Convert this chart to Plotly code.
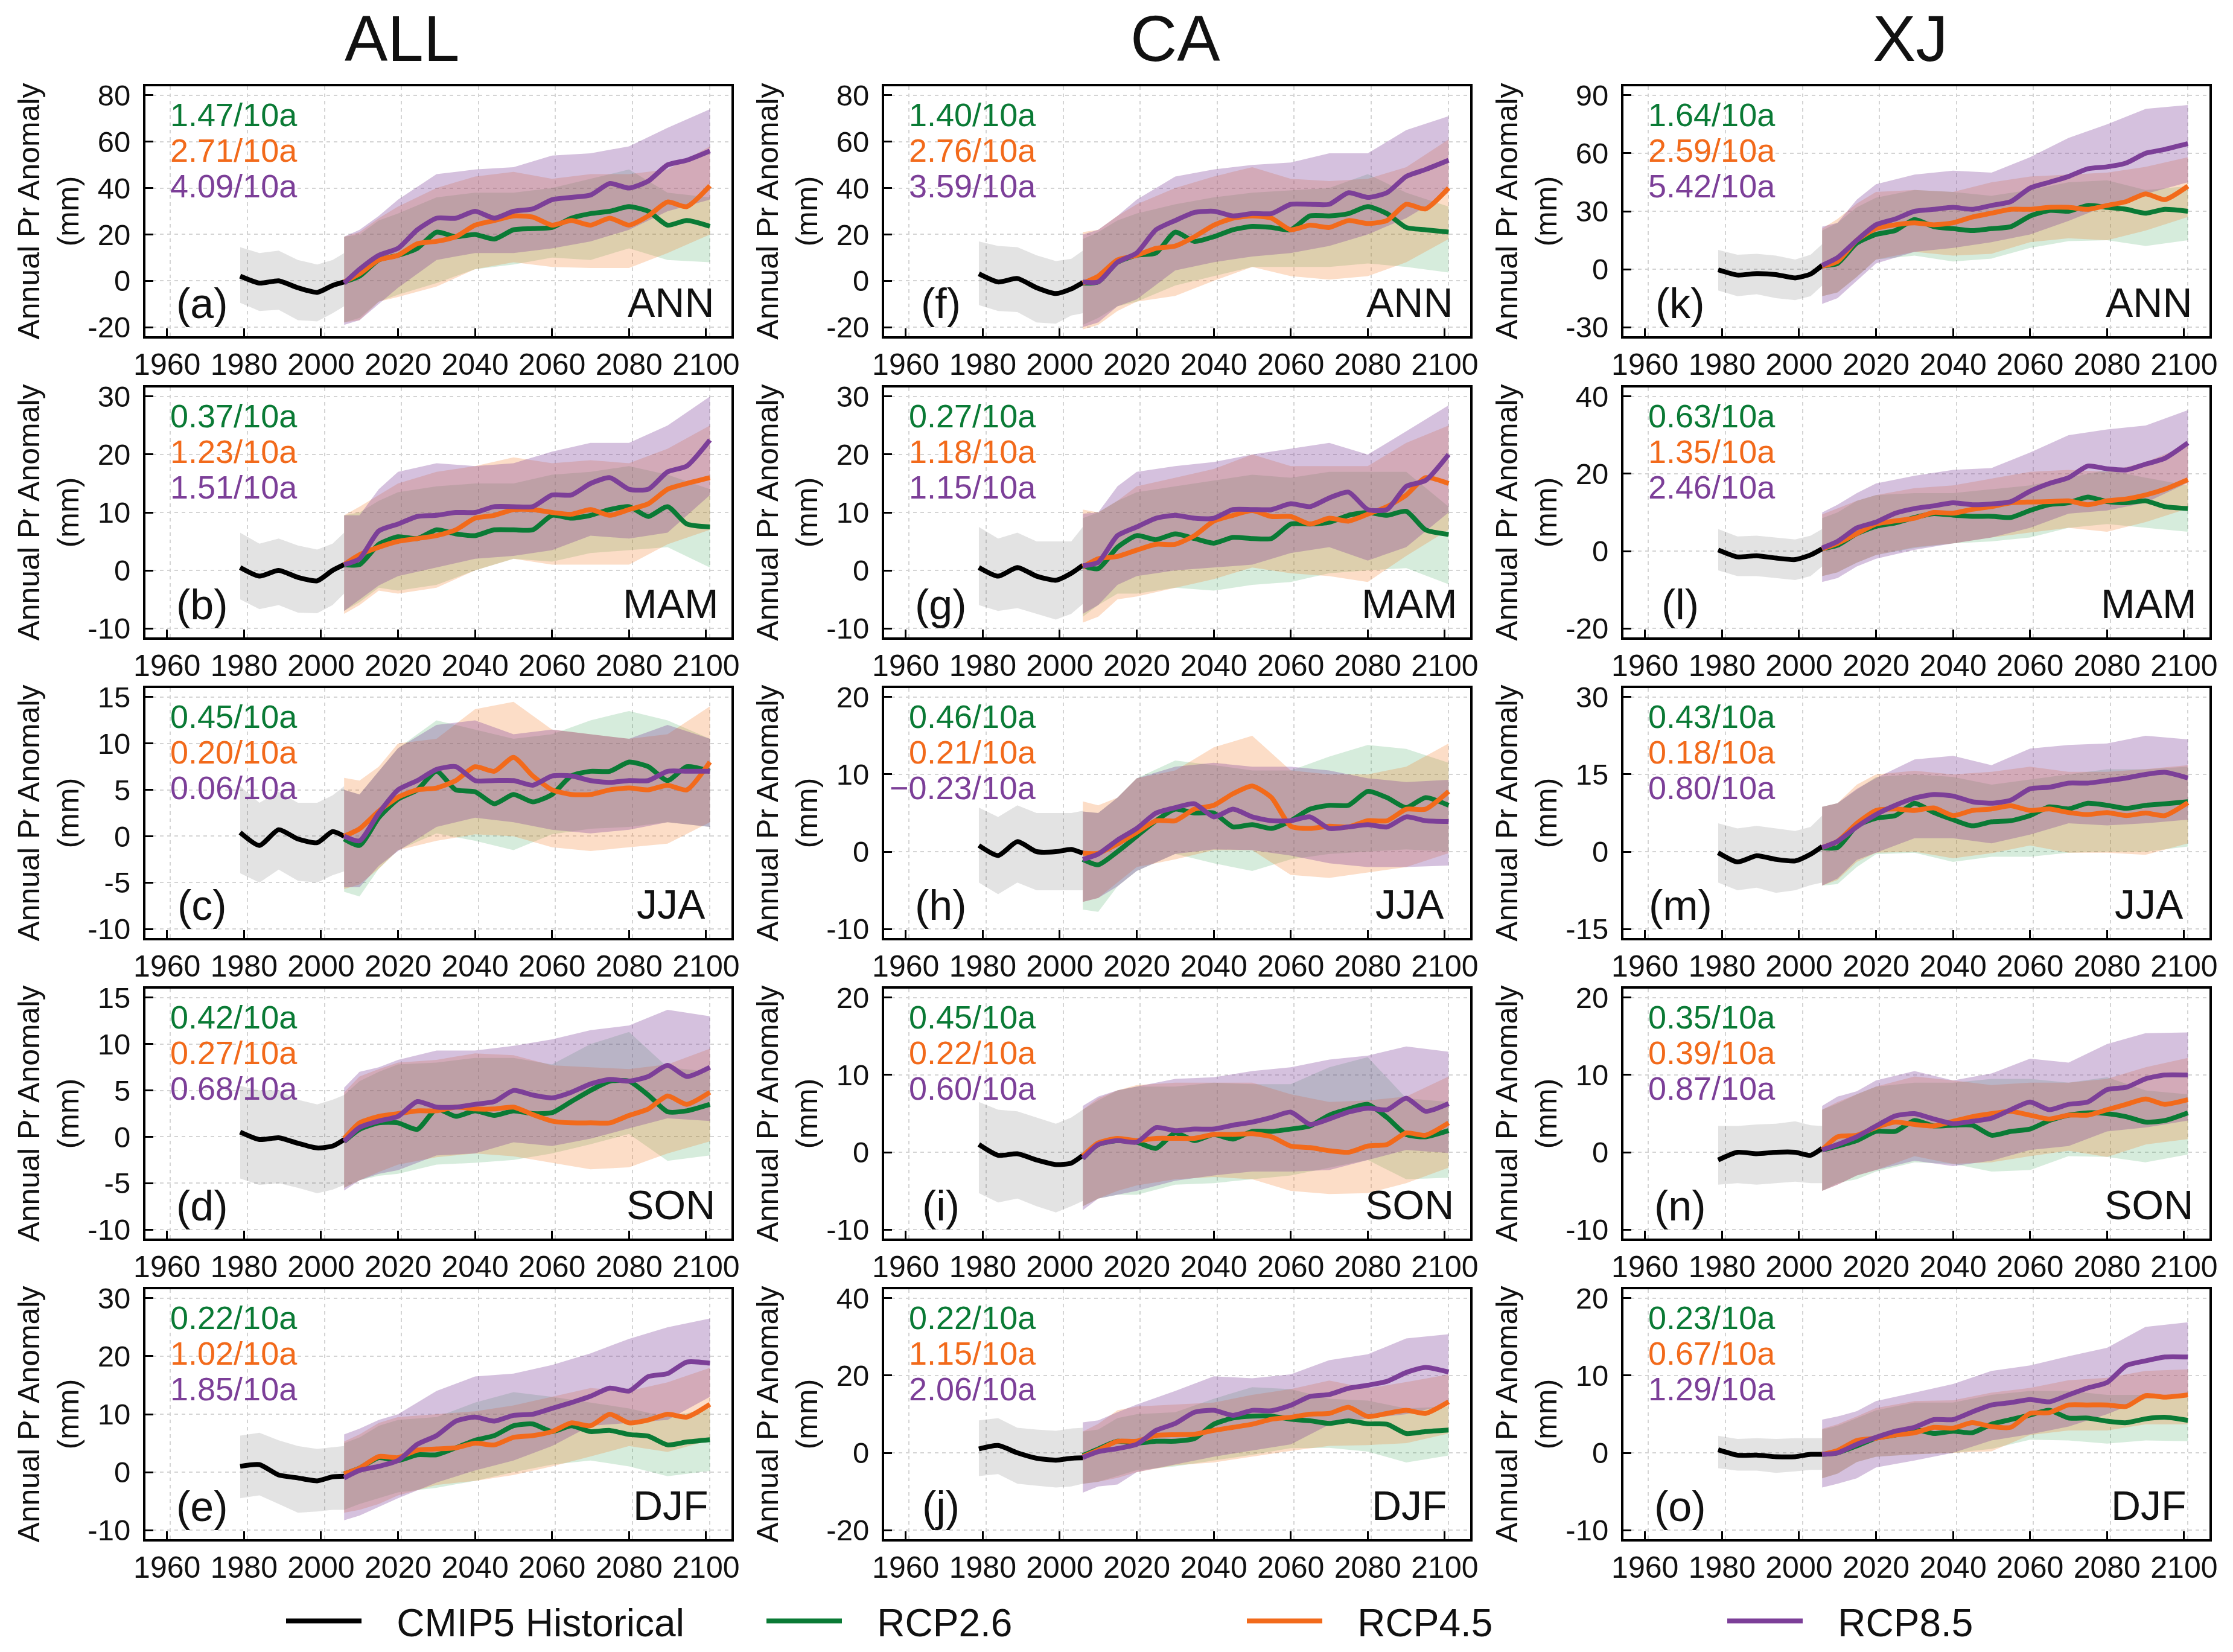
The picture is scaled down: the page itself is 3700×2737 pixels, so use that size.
import plotly.graph_objects as go

# years the values were read at
HIST_YEARS = [1979, 1984, 1989, 1994, 1999, 2003, 2006]
LINE_YEARS = [2006, 2010, 2015, 2020, 2025, 2030, 2035, 2040, 2045, 2050, 2055, 2060, 2065, 2070, 2075, 2080, 2085, 2090, 2095, 2101]
BAND_YEARS = [2006, 2010, 2015, 2020, 2030, 2040, 2050, 2060, 2070, 2080, 2090, 2101]
X_TICKS = [1960, 1980, 2000, 2020, 2040, 2060, 2080, 2100]

COLUMN_TITLES = ["ALL", "CA", "XJ"]
SEASONS = ["ANN", "MAM", "JJA", "SON", "DJF"]
LETTERS = "abcdefghijklmno"
SERIES_NAMES = ["RCP2.6", "RCP4.5", "RCP8.5"]
SERIES_KEYS = ["26", "45", "85"]
LEGEND_NAMES = ["CMIP5 Historical"] + SERIES_NAMES

# (a) ALL ANN
A_TICKS = [-20, 0, 20, 40, 60, 80]
A_RATE = ["1.47/10a", "2.71/10a", "4.09/10a"]
A_H = [2, -1, 0, -3, -5, -2, -0.5]
A_H_LO = [-9.5, -13, -12.5, -17, -17.5, -14, -11]
A_H_HI = [14.5, 12, 13, 9, 7, 9, 12]
A_26 = [-0.5, 2, 9, 11, 14, 21, 19, 20, 18, 22, 22.5, 23, 27, 29, 30, 32, 30, 24, 26, 23.5]
A_45 = [-0.5, 3, 9, 11, 16, 17, 19, 24, 26, 28, 27.5, 24, 26, 24, 27, 24, 28, 34, 32, 41]
A_85 = [-1, 5, 11, 14, 22, 27, 27, 30, 27, 30, 31, 35, 36, 37, 42, 40, 43, 50, 52, 56]
A_26_LO = [-18, -16, -9, -6, -1, 5, 7, 10, 9, 14, 9, 8]
A_26_HI = [19, 20, 26, 29, 36, 38, 38, 40, 44, 48, 38, 36]
A_45_LO = [-18, -17, -9, -7, -2.5, 5, 8, 6, 5.5, 5.5, 12, 20]
A_45_HI = [19, 21, 27, 32, 40, 45, 47, 44, 46, 46, 48, 58]
A_85_LO = [-19, -17, -10, -3, 9, 12, 12, 14, 17, 22, 30, 35]
A_85_HI = [19, 22, 28, 35, 46, 48, 49, 54, 55, 58, 66, 74]

# (b) ALL MAM
B_TICKS = [-10, 0, 10, 20, 30]
B_RATE = ["0.37/10a", "1.23/10a", "1.51/10a"]
B_H = [0.5, -1, 0, -1.2, -1.8, 0, 1]
B_H_LO = [-5, -6.7, -6, -7.3, -7.4, -6, -4]
B_H_HI = [6.5, 4.6, 5.5, 4.3, 3.6, 4.6, 6.5]
B_26 = [1, 1, 4.5, 5.8, 5.5, 7, 6.3, 6, 7, 7, 7, 9.5, 9, 9.5, 10.5, 11, 9.3, 11, 8, 7.5]
B_45 = [1, 2.7, 4, 5, 5.5, 6, 7, 9, 9.5, 10.5, 10.5, 10, 9.7, 10.5, 9.5, 10.5, 11.5, 14, 15, 16]
B_85 = [1, 2, 6.8, 8, 9.3, 9.5, 10, 10, 11, 11, 11, 13, 13, 15, 16, 14, 14, 17, 18, 22.5]
B_26_LO = [-7, -5.5, -3, -3.5, -2.5, 0, 2, 1.5, 3, 3.5, 4, 0.5]
B_26_HI = [9.5, 10, 12, 13.5, 14.5, 15, 15, 16.5, 17, 18, 16.5, 14]
B_45_LO = [-7.5, -6, -3.5, -4, -3, 0, 2, 1, 1, 1, 4.5, 7]
B_45_HI = [9.5, 11, 13, 15, 17, 18, 19.5, 18.5, 19, 18.5, 21, 25]
B_85_LO = [-7, -5, -2.6, -1, 0.5, 2, 2.5, 3.5, 6, 5.5, 6.5, 13]
B_85_HI = [9.5, 9.5, 14, 17, 18.5, 18, 18.5, 20.5, 22, 22, 25, 30]

# (c) ALL JJA
C_TICKS = [-10, -5, 0, 5, 10, 15]
C_RATE = ["0.45/10a", "0.20/10a", "0.06/10a"]
C_H = [0.4, -1, 0.7, -0.3, -0.7, 0.5, 0]
C_H_LO = [-4, -5, -3.6, -4.8, -5, -4.2, -3.8]
C_H_HI = [5.4, 3.6, 4.8, 3.6, 3.6, 4.4, 5.4]
C_26 = [-0.3, -1, 2, 4, 5, 7, 5, 4.8, 3.5, 4.5, 3.7, 4.5, 6.5, 7, 7, 8, 7.5, 6, 7.5, 7]
C_45 = [0, 0.8, 2.7, 4.2, 5, 5.2, 6, 7.5, 7, 8.5, 6.5, 5, 4.5, 4.5, 5, 5.2, 5, 5.5, 5, 8]
C_85 = [0, -0.5, 2.5, 5, 6, 7.2, 7.5, 6, 6, 6, 5.5, 6.5, 6.5, 6, 5.8, 6, 6, 7, 7, 7]
C_26_LO = [-6, -6.5, -3.5, -1.5, 0.3, -0.5, -1.5, 0.2, 0.8, 1, 1.5, 1]
C_26_HI = [5, 4.5, 7, 9.5, 12.5, 11.5, 10.5, 11, 12.5, 13.5, 12.5, 10.5]
C_45_LO = [-5.7, -5.2, -3.5, -1.5, -0.5, 0.2, 0, -1.2, -1.6, -1.2, -0.8, 1.5]
C_45_HI = [6.3, 6, 7.5, 10, 10.5, 13.7, 14.5, 11.5, 11, 10.5, 11, 14]
C_85_LO = [-5.5, -5.5, -3.2, -1.6, 1, 2, 1.5, 0.7, 0.3, 0.7, 1.5, 1]
C_85_HI = [5, 4.5, 7, 9.5, 12, 12.5, 11, 11.5, 11, 10.5, 12, 10.5]

# (d) ALL SON
D_TICKS = [-10, -5, 0, 5, 10, 15]
D_RATE = ["0.42/10a", "0.27/10a", "0.68/10a"]
D_H = [0.5, -0.3, -0.1, -0.7, -1.2, -1, -0.3]
D_H_LO = [-4.5, -5.2, -5, -5.5, -6.1, -5.7, -5.2]
D_H_HI = [5.5, 5, 5, 4, 3.5, 4, 4.5]
D_26 = [-0.5, 0.8, 1.5, 1.5, 0.8, 3, 2.2, 2.8, 2.3, 2.8, 2.5, 2.6, 3.8, 5, 6, 6, 4.5, 2.7, 2.8, 3.5]
D_45 = [-0.2, 1.5, 2.2, 2.5, 2.8, 2.8, 3.2, 3, 3, 3.2, 2.4, 1.7, 1.5, 1.5, 1.5, 2.3, 3, 4.4, 3.5, 4.8]
D_85 = [-0.5, 1, 1.7, 2.2, 3.8, 3.2, 3.2, 3.5, 3.8, 5, 4.5, 4.2, 4.8, 5.7, 6.2, 6, 6.5, 7.7, 6.5, 7.5]
D_26_LO = [-5.5, -4.7, -4.2, -4, -3, -2.8, -2.5, -1.8, -0.8, 0.3, -2.6, -2]
D_26_HI = [4.5, 6, 7, 7.8, 8, 8.5, 8.5, 7.8, 10, 11.3, 7.5, 7]
D_45_LO = [-5.5, -4.7, -3.8, -3, -2.2, -1.8, -2.1, -2.8, -3.5, -3.3, -1.8, -0.5]
D_45_HI = [4.8, 6.5, 7.3, 8, 8.3, 9, 8.8, 7.7, 7.5, 7.3, 7.8, 9.5]
D_85_LO = [-5.8, -4.7, -4, -3.6, -2, -1.8, -0.6, -1, -0.2, 0.9, 2, 1.7]
D_85_HI = [5.3, 7, 7.5, 8.3, 9.3, 9.3, 9.8, 10.5, 11.5, 12, 13.7, 13]

# (e) ALL DJF
E_TICKS = [-10, 0, 10, 20, 30]
E_RATE = ["0.22/10a", "1.02/10a", "1.85/10a"]
E_H = [1, 1.3, -0.5, -1, -1.5, -0.8, -0.7]
E_H_LO = [-4.5, -4, -5.5, -7, -6.8, -6.5, -6.5]
E_H_HI = [6.3, 6.8, 5.5, 4.5, 4, 4.3, 4.5]
E_26 = [-0.3, 0.7, 2.5, 2, 3, 3, 4.2, 5.5, 6.3, 8, 8.3, 7, 8, 7, 7.2, 6.5, 6.2, 4.7, 5.2, 5.6]
E_45 = [-0.3, 0.7, 2.7, 2.5, 3.8, 4, 4.2, 5, 4.7, 6, 6.3, 7, 8.5, 8, 10, 8.5, 9, 10, 9.5, 11.7]
E_85 = [-1, 0.3, 1, 2, 4.8, 6.3, 8.8, 9.5, 8.8, 9.8, 10, 11, 12, 13.1, 14.5, 14, 16.5, 17, 19, 18.8]
E_26_LO = [-6.5, -5.5, -4.5, -3.5, -2.7, -1.5, 0, 1.3, 2, 1, -0.7, 0.2]
E_26_HI = [5, 6, 8, 9, 9.5, 12, 13.8, 13, 12, 11, 9.5, 11]
E_45_LO = [-7, -6.5, -5.5, -4, -2.2, -1.5, -0.5, 1, 2.7, 4.5, 3.5, 5.5]
E_45_HI = [5.3, 6.5, 8.5, 9.5, 10, 10.5, 11.5, 13, 14.5, 14, 15.5, 18]
E_85_LO = [-8.3, -7.5, -6, -4.5, -1.8, 0.3, 2, 4.5, 8, 8.5, 9, 13]
E_85_HI = [6.5, 7.5, 9, 10, 14, 16.5, 17, 18.5, 20.5, 23, 25, 26.5]

# (f) CA ANN
F_TICKS = [-20, 0, 20, 40, 60, 80]
F_RATE = ["1.40/10a", "2.76/10a", "3.59/10a"]
F_H = [3, -0.5, 1, -3, -5.5, -3.5, -0.8]
F_H_LO = [-10.5, -13, -13.5, -18, -18.5, -15, -14]
F_H_HI = [17, 15, 14.5, 11, 8.5, 9.5, 13]
F_26 = [-1, -0.5, 8, 11, 12, 21, 17, 19, 22, 23.5, 23, 22, 28, 28, 29, 32, 29, 23, 22, 21]
F_45 = [-1, 2, 9, 11, 14, 15, 19, 24, 27, 28, 27, 22, 24, 23, 26, 24.7, 26, 33, 31, 40]
F_85 = [-0.5, -0.5, 8, 12, 22, 26, 29.5, 30, 28, 29, 29, 33, 33, 33, 38, 36, 38, 45, 48, 52]
F_26_LO = [-19, -16, -11, -9, -2, 2, 6, 6, 6, 7.5, 6, 3.6]
F_26_HI = [18, 21, 26, 29, 33, 36, 38, 39, 40, 46, 38, 32]
F_45_LO = [-21, -19, -13, -9, -6.5, 0, 6, 2, 0.5, 2, 8, 18]
F_45_HI = [21, 22, 28, 33, 40, 45, 49, 44, 43, 44, 49, 61]
F_85_LO = [-20, -18, -11, -8, 4.5, 8, 10.5, 12, 15, 20, 27, 38]
F_85_HI = [20, 22, 28, 35, 45, 48, 50, 51, 55, 55, 65, 71]

# (g) CA MAM
G_TICKS = [-10, 0, 10, 20, 30]
G_RATE = ["0.27/10a", "1.18/10a", "1.15/10a"]
G_H = [0.5, -1, 0.5, -1, -1.7, -0.5, 0.9]
G_H_LO = [-6, -7, -6.5, -7.5, -8.5, -7.5, -5.8]
G_H_HI = [7.5, 5.5, 6.5, 5, 5, 5, 7.5]
G_26 = [0.8, 0.3, 4, 6, 5.3, 6.3, 5.5, 4.7, 5.7, 5.5, 5.5, 8, 8, 8.3, 9.5, 10, 9.5, 10.2, 7, 6.2]
G_45 = [0.6, 2, 2.4, 3.5, 4.5, 4.5, 6, 8.5, 9.5, 10.3, 9.3, 9.3, 8, 9, 8.5, 9.7, 11, 13, 16, 15]
G_85 = [0.8, 1.4, 6, 7.5, 9, 9.5, 9, 9, 10.5, 10.5, 10.5, 11.5, 11, 12.5, 13.5, 10.5, 10.5, 14.5, 15.5, 20]
G_26_LO = [-8, -6, -4, -4, -3, -3.5, -2.5, -2, -0.5, 0, 0.4, -2.4]
G_26_HI = [9, 10, 12, 13.5, 14.5, 15.5, 16.5, 16, 17, 17, 17, 11]
G_45_LO = [-9, -8, -5, -4.5, -3, -1.5, 0.5, -0.5, -1, -2, 2.5, 7]
G_45_HI = [10.5, 10, 12, 14.5, 16, 17.5, 20, 18, 18, 18, 22, 25]
G_85_LO = [-7.5, -6, -2.5, -1, 0, 0.5, 1, 3, 4, 1.7, 4, 10]
G_85_HI = [9.8, 10, 14.5, 17, 18, 18.7, 20, 21, 22, 20, 24, 28.5]

# (h) CA JJA
H_TICKS = [-10, 0, 10, 20]
H_RATE = ["0.46/10a", "0.21/10a", "\u22120.23/10a"]
H_H = [0.8, -0.5, 1.3, 0, 0, 0.3, -0.2]
H_H_LO = [-4, -5.5, -4, -5, -5, -5, -5]
H_H_HI = [5.7, 4.5, 6, 5, 5, 5, 5.3]
H_26 = [-1, -1.7, 0, 2, 4, 5.5, 5, 5, 3.2, 3.5, 3, 4, 5.5, 6, 6, 7.8, 7, 5.7, 7, 6]
H_45 = [-0.2, -0.2, 1, 2.5, 4, 4, 5.5, 6, 7.5, 8.5, 7, 3.3, 3, 3.3, 3.2, 4, 4, 5.5, 5.5, 7.8]
H_85 = [-1, -0.3, 1.5, 3, 5, 5.7, 6.2, 4.5, 5.5, 4.5, 4, 4, 4.5, 3, 3.2, 3.5, 3.2, 4.5, 4, 3.9]
H_26_LO = [-7.5, -7.8, -4.5, -2.5, -0.3, -1.5, -2.5, -1, -0.3, 0, 0.3, 0]
H_26_HI = [5.2, 5, 7, 9.5, 11.8, 11.2, 10.5, 10.5, 12.3, 13.8, 13.3, 11.5]
H_45_LO = [-6.5, -6, -4, -2, -1, 0.2, 0.2, -3, -3.4, -2.7, -2, -0.2]
H_45_HI = [6.5, 6, 7, 9.5, 10.5, 13.5, 15, 10.5, 10, 10, 11, 14]
H_85_LO = [-6.5, -6, -4.5, -2.5, -0.3, 0.3, 0.2, -0.5, -1.5, -2, -2, -1.8]
H_85_HI = [5.2, 5, 7, 9.5, 11, 11.5, 11, 11, 10.5, 9.5, 9, 9.3]

# (i) CA SON
I_TICKS = [-10, 0, 10, 20]
I_RATE = ["0.45/10a", "0.22/10a", "0.60/10a"]
I_H = [1, -0.4, -0.2, -1, -1.6, -1.4, -0.4]
I_H_LO = [-5.3, -6.5, -6, -7, -7.8, -7, -6.3]
I_H_HI = [6.5, 5.5, 5.3, 4.5, 3.7, 4.5, 5.5]
I_26 = [-0.8, 1, 1.5, 1.3, 0.5, 2.5, 1.5, 2.3, 1.7, 2.7, 2.7, 3, 3.4, 4.8, 5.6, 6.2, 4.5, 2.3, 2, 2.8]
I_45 = [-0.5, 1.2, 1.8, 1.5, 1.8, 1.8, 1.8, 2.3, 2.3, 2.4, 2, 0.8, 0.6, 0.2, 0, 0.8, 1, 2.5, 2.2, 3.8]
I_85 = [-0.8, 1, 1.5, 1.3, 3.2, 2.8, 3, 3, 3.5, 3.9, 4.5, 5.2, 3.6, 4.3, 5.2, 5.7, 5.5, 7, 5.3, 6.3]
I_26_LO = [-7, -6, -5.5, -5.5, -4.2, -4, -3.5, -3, -2, -1, -3.5, -3.3]
I_26_HI = [5.5, 6.7, 8, 8.5, 8.5, 9, 8.8, 8.8, 11, 12.3, 7, 6.5]
I_45_LO = [-7, -6, -5, -4.3, -3.5, -3.2, -3.5, -5, -5.4, -5.3, -4, -2]
I_45_HI = [5.5, 7, 8, 8.7, 9, 9, 9, 7.5, 6.5, 6.7, 7.2, 9.8]
I_85_LO = [-7.5, -6, -5.5, -5, -3.7, -3, -2.5, -2.5, -2.3, -1, 0.3, -0.1]
I_85_HI = [6, 7.2, 8, 8.5, 9.5, 9.7, 10.5, 11, 12, 12.5, 13.7, 13]

# (j) CA DJF
J_TICKS = [-20, 0, 20, 40]
J_RATE = ["0.22/10a", "1.15/10a", "2.06/10a"]
J_H = [1, 1.9, 0, -1.4, -1.9, -1.4, -1.3]
J_H_LO = [-6, -5.5, -8, -8.5, -9, -8.7, -8]
J_H_HI = [8.4, 9, 6.5, 6, 5.7, 6.3, 6.5]
J_26 = [-0.7, 1, 3, 2.5, 3, 3, 3.7, 7.4, 9, 9.5, 9.5, 8.7, 8.3, 7.6, 8.3, 7.5, 7.4, 5, 5.5, 5.9]
J_45 = [-1, 0.7, 3, 3, 4.5, 4.7, 4.8, 5.8, 6.6, 7.4, 8.7, 9.2, 10, 10.2, 11.8, 9.4, 10.2, 11, 10.2, 13.2]
J_85 = [-1.2, 0.3, 1.1, 2.2, 5.8, 7.6, 10.5, 11, 9.7, 11, 10.9, 12.3, 14.6, 15.1, 16.7, 17.5, 18.5, 20.8, 22.1, 20.9]
J_26_LO = [-8, -7.5, -6, -4.5, -3.5, -2, -0.5, 1.2, 1.3, 0.3, -2.5, -0.7]
J_26_HI = [5.5, 6, 9, 10, 10.5, 14, 17, 16.5, 14, 13.5, 11.5, 12]
J_45_LO = [-8, -7.5, -6.5, -5, -3.2, -2.5, -1, 0.5, 1.8, 2, 2.5, 5]
J_45_HI = [5.5, 7.5, 11, 12, 12.5, 13, 15, 16.5, 18.7, 16.7, 18.3, 20.3]
J_85_LO = [-10.3, -8.7, -8.2, -5, -3, -1, 0.6, 2.2, 7.3, 8.9, 10, 12.5]
J_85_HI = [7.9, 8.4, 10.5, 12.5, 16, 19.8, 19.3, 20.3, 24, 25.5, 29.6, 30.7]

# (k) XJ ANN
K_TICKS = [-30, 0, 30, 60, 90]
K_RATE = ["1.64/10a", "2.59/10a", "5.42/10a"]
K_H = [-0.3, -3, -2.3, -2.8, -4.5, -2.5, 2]
K_H_LO = [-11, -14, -13, -15, -16, -14, -8.5]
K_H_HI = [10, 7.5, 8, 7, 5, 7.5, 13]
K_26 = [1.8, 3, 13.5, 18, 20, 25.7, 22, 21, 20, 21, 22, 27.5, 30.4, 30, 33, 32, 31, 29, 31, 30]
K_45 = [1.5, 4, 15, 21, 23, 24, 23, 24, 27, 29, 31, 31, 32, 32, 31, 33, 35, 39, 36, 43]
K_85 = [2, 6, 15, 23, 26, 30, 31, 32, 31, 33, 35, 42, 45, 48, 52, 53, 55, 60, 62, 65]
K_26_LO = [-14, -12, -4, 5, 7, 4, 5.5, 11, 14.5, 15, 12, 15]
K_26_HI = [20, 24, 32, 37, 41, 40, 38, 41, 45, 46, 41, 43]
K_45_LO = [-14, -12, -4, 5, 9, 7, 8, 14, 16, 15, 20, 27]
K_45_HI = [21, 26, 34, 40, 41, 40, 45, 48, 49, 50, 53, 58]
K_85_LO = [-18, -15, -6, 3, 9, 11, 14, 18, 25, 33, 39, 45]
K_85_HI = [22, 24, 36, 44, 49, 51, 50, 58, 68, 75, 83, 85]

# (l) XJ MAM
L_TICKS = [-20, 0, 20, 40]
L_RATE = ["0.63/10a", "1.35/10a", "2.46/10a"]
L_H = [0.3, -1.5, -1.2, -1.8, -2.2, -1, 0.6]
L_H_LO = [-5, -6.5, -6.5, -7, -7.5, -6.5, -4]
L_H_HI = [5.7, 3.8, 4, 3.5, 3, 4, 5.7]
L_26 = [0.6, 1.5, 4.5, 6.4, 7.3, 8.7, 9.7, 9.3, 9, 9, 8.7, 10.5, 12, 12.5, 14, 12.8, 12.5, 13, 11.5, 11]
L_45 = [0.6, 2, 4.5, 7, 7.8, 8.5, 10, 9.8, 10.8, 11.5, 12.5, 12.7, 12.8, 13, 12, 13, 13.5, 14.5, 16, 18.5]
L_85 = [0.8, 2.5, 6, 7.5, 9.8, 11, 11.7, 12.5, 12, 12.2, 12.8, 15.5, 17.5, 19, 22, 21.3, 21, 22.5, 24, 28]
L_26_LO = [-6.5, -5.5, -3, -1, 0.8, 2, 2.5, 3.5, 6, 7, 6, 5]
L_26_HI = [8.5, 10, 13, 14.5, 15, 15, 16, 17, 19, 21, 19, 17]
L_45_LO = [-6.5, -5.5, -3, -1, 1, 2, 3.5, 4.8, 6, 5, 7.5, 11]
L_45_HI = [9.5, 11, 13, 14.5, 16.3, 17, 18.7, 20.5, 21, 20.5, 23, 27.5]
L_85_LO = [-8, -7, -4, -2, 0.3, 2, 3.5, 6, 9.7, 10.5, 12.5, 17.7]
L_85_HI = [10, 12, 15, 17.5, 19.5, 21, 21.5, 25.5, 30, 31.5, 32.5, 36.5]

# (m) XJ JJA
M_TICKS = [-15, 0, 15, 30]
M_RATE = ["0.43/10a", "0.18/10a", "0.80/10a"]
M_H = [-0.2, -2, -0.8, -1.5, -1.8, -0.5, 1]
M_H_LO = [-6, -7.5, -7, -8, -7.5, -6.5, -6]
M_H_HI = [5.5, 4.5, 5, 4.5, 4, 4.8, 7]
M_26 = [0.8, 0.8, 5, 6.5, 7, 9.4, 7.6, 6.2, 5, 5.8, 6, 7, 8.7, 8.3, 9.4, 9, 8.4, 9, 9.3, 9.7]
M_45 = [0.8, 2, 5.5, 8, 8.3, 8, 8.5, 7, 8, 8.3, 8.9, 8, 8.3, 7.6, 7.2, 7.6, 7, 7.5, 7, 9.5]
M_85 = [0.8, 2, 4.8, 7.2, 9, 10.4, 11.1, 10.8, 9.7, 9.4, 10, 12.2, 12.5, 13.3, 13.3, 13.8, 14.3, 15, 15.4, 14.3]
M_26_LO = [-6.6, -6.3, -3, -0.5, -0.2, -2, -1, -1, -0.2, 0, 0, 1]
M_26_HI = [8.7, 9.4, 12, 14.5, 15, 14.5, 13, 14, 15, 16, 16, 16.5]
M_45_LO = [-6.6, -5.5, -2, -0.2, 0, -1.3, -0.3, 1.2, -0.2, -0.2, -0.6, 1.6]
M_45_HI = [8.7, 9.4, 13, 15, 15.7, 15, 15.5, 16.5, 15.5, 15.5, 16, 16.8]
M_85_LO = [-6.6, -5.2, -1.6, -0.2, 2.6, 2.6, 1.6, 3.3, 5.5, 5.1, 5.5, 6.2]
M_85_HI = [8.7, 9.4, 12.2, 14.3, 17.9, 18.6, 16.8, 20, 20.7, 21, 22.5, 21.8]

# (n) XJ SON
N_TICKS = [-10, 0, 10, 20]
N_RATE = ["0.35/10a", "0.39/10a", "0.87/10a"]
N_H = [-1, 0, -0.2, 0, 0, -0.4, 0.5]
N_H_LO = [-4.2, -4, -4.2, -4, -3.8, -4, -4]
N_H_HI = [3.4, 3.4, 3.6, 3.7, 4, 3.5, 3.4]
N_26 = [0.3, 0.8, 1.5, 2.7, 2.7, 4.1, 3.4, 3.5, 3.5, 2.2, 2.7, 3, 4.1, 4.8, 5.1, 5, 4.6, 3.9, 4.1, 5.1]
N_45 = [0.3, 2, 2.2, 3.2, 3.9, 3.6, 3.4, 4, 4.6, 5, 5.3, 4.8, 4.3, 4.8, 4.8, 5.5, 6.2, 6.9, 6.2, 6.8]
N_85 = [0.3, 1, 2, 3.4, 4.7, 5, 4.3, 3.7, 4, 4.4, 5.5, 6.5, 5.5, 6.2, 6.5, 8.1, 8.4, 9.5, 10, 10]
N_26_LO = [-5, -4, -3.5, -2.5, -1.3, -1.5, -2.5, -2.3, -0.5, -0.6, -1.3, -0.3]
N_26_HI = [5.5, 6.3, 7.5, 8.5, 9, 9, 9.5, 9.5, 9, 9.7, 8, 7.5]
N_45_LO = [-5, -4.2, -3, -2.3, -0.5, -1.5, -1.3, -0.5, 0.2, -0.6, 1, 1.7]
N_45_HI = [5.5, 6.5, 7.5, 8.5, 9.8, 9.3, 8.7, 9, 9, 9.5, 11, 12.2]
N_85_LO = [-5, -4.2, -3, -2.3, -1.1, -1.8, -1.1, 0.3, 0.8, 2.7, 3.2, 4.1]
N_85_HI = [6, 7.2, 7.9, 9.3, 10.5, 9.3, 10.2, 12.1, 11.6, 14, 15.4, 15.5]

# (o) XJ DJF
O_TICKS = [-10, 0, 10, 20]
O_RATE = ["0.23/10a", "0.67/10a", "1.29/10a"]
O_H = [0.4, -0.3, -0.3, -0.5, -0.5, -0.2, -0.2]
O_H_LO = [-2, -2.3, -2.3, -2.6, -2.4, -2.2, -2.2]
O_H_HI = [2.2, 1.8, 1.9, 1.8, 1.9, 1.9, 1.9]
O_26 = [-0.2, 0, 0.9, 1.9, 2.3, 3, 2.5, 2.8, 2.6, 3.7, 4.3, 4.9, 5.5, 4.5, 4.5, 4.1, 3.9, 4.4, 4.6, 4.2]
O_45 = [-0.2, 0.3, 1.6, 1.9, 2.3, 2.6, 3.3, 3.2, 3.9, 3.4, 3.3, 5.1, 5.2, 6.2, 6.2, 6.2, 6, 7.4, 7.2, 7.5]
O_85 = [-0.2, 0, 1.1, 2, 2.8, 3.3, 4.3, 4.3, 5.3, 6.2, 6.5, 6.9, 6.6, 7.5, 8.4, 9.1, 11.3, 11.9, 12.4, 12.4]
O_26_LO = [-3.3, -2.7, -1.2, -0.5, -0.2, 0, 0.5, 1.7, 1.6, 1.2, 1.6, 1.5]
O_26_HI = [3, 3.5, 4.5, 5.5, 6.5, 6.5, 7.5, 8, 8, 7.5, 7.5, 7.5]
O_45_LO = [-3.3, -2.7, -1.2, -0.5, -0.2, 0, 0.2, 2.3, 2.9, 2.9, 3.7, 3.7]
O_45_HI = [3.1, 3.7, 4.7, 5.8, 6.7, 6.8, 7.8, 8.4, 9.4, 9.7, 10.6, 10.8]
O_85_LO = [-4.5, -4, -3.3, -1.9, -1, 0, 1.6, 2.4, 3.4, 5, 7, 7.2]
O_85_HI = [4.3, 4.7, 5.4, 6.7, 7.8, 8.9, 10.6, 11.3, 12.5, 13.6, 16.3, 16.9]

W, H = 3700, 2737
COL_LEFT = [241, 1465, 2690]
COL_WIDTH = 971
ROW_TOP = [143, 642, 1140, 1638, 2136]
ROW_HEIGHT = 414

LINE_COLORS = {"26": "#0a7a35", "45": "#f26a1b", "85": "#7c3f98"}
BAND_COLORS = {"26": "rgba(10,140,50,0.17)", "45": "rgba(242,120,30,0.25)", "85": "rgba(124,63,152,0.32)"}
FONT = "Liberation Sans"
GAP = "\u00a0\u00a0\u00a0"  # legend text sits well away from its line

fig = go.Figure()
annotations = []


def band(years, lo, hi, color, xa, ya):
    return go.Scatter(x=years + years[::-1], y=hi + lo[::-1], mode="lines", fill="toself",
                      fillcolor=color, line=dict(width=0), showlegend=False,
                      hoverinfo="skip", xaxis=xa, yaxis=ya)


for i, letter in enumerate(LETTERS):
    col, row = i // 5, i % 5
    key = letter.upper()
    d = globals()
    suffix = "" if i == 0 else str(i + 1)
    xa, ya = "x" + suffix, "y" + suffix

    fig.add_trace(band(HIST_YEARS, d[key + "_H_LO"], d[key + "_H_HI"], "rgba(0,0,0,0.11)", xa, ya))
    for s in SERIES_KEYS:
        fig.add_trace(band(BAND_YEARS, d[f"{key}_{s}_LO"], d[f"{key}_{s}_HI"], BAND_COLORS[s], xa, ya))

    fig.add_trace(go.Scatter(x=HIST_YEARS, y=d[key + "_H"], mode="lines", name=GAP + LEGEND_NAMES[0],
                             legendgroup="hist", showlegend=i == 0,
                             line=dict(color="black", width=8, shape="spline", smoothing=0.6),
                             xaxis=xa, yaxis=ya))
    for s, name in zip(SERIES_KEYS, SERIES_NAMES):
        fig.add_trace(go.Scatter(x=LINE_YEARS, y=d[f"{key}_{s}"], mode="lines", name=GAP + name,
                                 legendgroup=s, showlegend=i == 0,
                                 line=dict(color=LINE_COLORS[s], width=8, shape="spline", smoothing=0.6),
                                 xaxis=xa, yaxis=ya))

    ticks = d[key + "_TICKS"]
    pad = 0.039 * (ticks[-1] - ticks[0])
    grid = dict(gridcolor="#d4d4d4", griddash="6px,6px", gridwidth=2)
    fig.layout[("xaxis" + suffix)] = dict(
        domain=[COL_LEFT[col] / W, (COL_LEFT[col] + COL_WIDTH) / W],
        range=[1954.4, 2106.6], anchor=ya, tickmode="array", tickvals=X_TICKS,
        ticktext=[str(t) for t in X_TICKS], ticks="inside", ticklen=13, tickwidth=3, tickcolor="black",
        showgrid=False, zeroline=False, showline=True, mirror=True, linecolor="black", linewidth=4,
        ticklabelstandoff=0, tickfont=dict(family=FONT, size=50, color="#111"), automargin=False,
        minor=dict(tickmode="linear", tick0=1960.9, dtick=20, showgrid=True, ticks="", **grid))
    fig.layout[("yaxis" + suffix)] = dict(
        domain=[1 - (ROW_TOP[row] + ROW_HEIGHT) / H, 1 - ROW_TOP[row] / H],
        range=[ticks[0] - pad, ticks[-1] + pad], anchor=xa, tickmode="array", tickvals=ticks,
        ticktext=[str(t) for t in ticks], ticks="inside", ticklen=13, tickwidth=3, tickcolor="black",
        showgrid=True, zeroline=False, showline=True, mirror=True, linecolor="black", linewidth=4,
        ticklabelstandoff=11, tickfont=dict(family=FONT, size=49, color="#111"), automargin=False,
        title=dict(text="Annual Pr Anomaly<br>(mm)", font=dict(family=FONT, size=50, color="#111"), standoff=0),
        **grid)

    for n, (txt, s) in enumerate(zip(d[key + "_RATE"], SERIES_KEYS)):
        annotations.append(dict(text=txt, xref=xa + " domain", yref=ya + " domain", x=0.262, y=1 - (47 + 59 * n) / ROW_HEIGHT,
                                xanchor="right", yanchor="middle", showarrow=False,
                                font=dict(family=FONT, size=54, color=LINE_COLORS[s])))
    annotations.append(dict(text=f"({letter})", xref=xa + " domain", yref=ya + " domain", x=0.097, y=0.13,
                            xanchor="center", yanchor="middle", showarrow=False,
                            font=dict(family=FONT, size=70, color="#111")))
    annotations.append(dict(text=SEASONS[row], xref=xa + " domain", yref=ya + " domain", x=0.897, y=0.135,
                            xanchor="center", yanchor="middle", showarrow=False,
                            font=dict(family=FONT, size=68, color="#111")))

for title, x in zip(COLUMN_TITLES, [666, 1948, 3165]):
    annotations.append(dict(text=title, xref="paper", yref="paper", x=x / W, y=1 - 64 / H, xanchor="center",
                            yanchor="middle", showarrow=False, font=dict(family=FONT, size=107, color="#111")))

fig.update_layout(
    width=W, height=H, margin=dict(l=0, r=0, t=0, b=0, autoexpand=False), paper_bgcolor="white", plot_bgcolor="white",
    annotations=annotations, hovermode=False,
    legend=dict(orientation="h", x=469 / W, xanchor="left", y=1 - 2686 / H, yanchor="middle", itemwidth=125,
                entrywidth=656, entrywidthmode="pixels", font=dict(family=FONT, size=64, color="#111"),
                bgcolor="rgba(0,0,0,0)", traceorder="normal"),
)

fig.write_html("out.html", config={"displayModeBar": False}, post_script="document.body.style.margin='0';")
